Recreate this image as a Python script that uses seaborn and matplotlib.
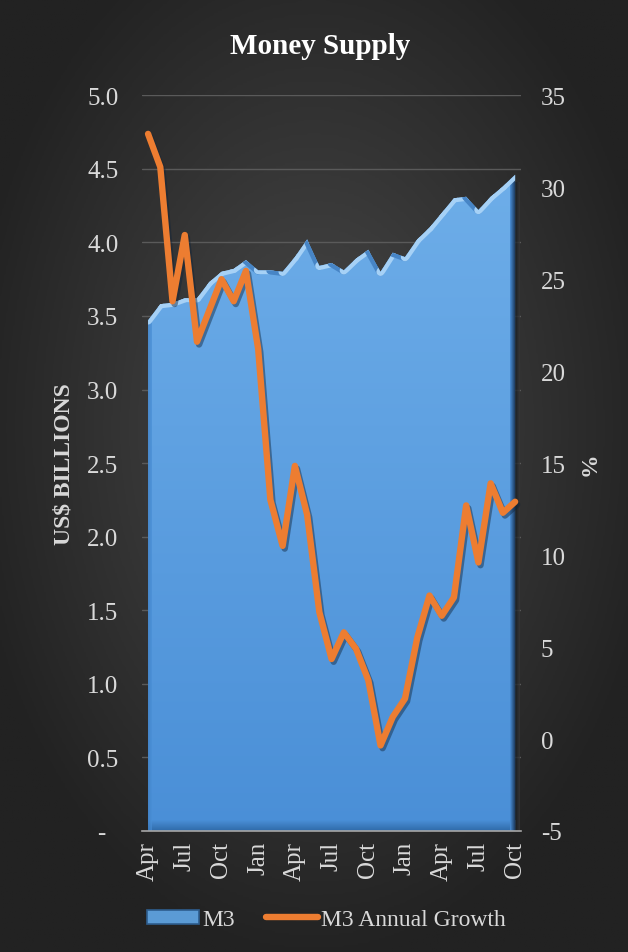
import numpy as np
import pandas as pd
import matplotlib
matplotlib.use("Agg")
import matplotlib.pyplot as plt
import matplotlib.patheffects as pe
from matplotlib.collections import LineCollection
from matplotlib.patches import Patch
from matplotlib.lines import Line2D
from matplotlib.colors import LinearSegmentedColormap
import seaborn as sns

# ---- data -------------------------------------------------------------
months = ["Apr", "May", "Jun", "Jul", "Aug", "Sep", "Oct", "Nov", "Dec",
          "Jan", "Feb", "Mar", "Apr", "May", "Jun", "Jul", "Aug", "Sep",
          "Oct", "Nov", "Dec", "Jan", "Feb", "Mar", "Apr", "May", "Jun",
          "Jul", "Aug", "Sep", "Oct"]
m3 = [3.47, 3.58, 3.59, 3.62, 3.62, 3.73, 3.80, 3.82, 3.88, 3.81, 3.81,
      3.80, 3.90, 4.02, 3.84, 3.86, 3.81, 3.89, 3.95, 3.80, 3.93, 3.90,
      4.02, 4.10, 4.20, 4.30, 4.31, 4.22, 4.31, 4.38, 4.46]
m3_growth = [32.9, 31.1, 23.8, 27.4, 21.6, 23.3, 25.0, 23.8, 25.45, 21.2,
             13.0, 10.5, 14.85, 12.2, 6.9, 4.35, 5.8, 4.9, 3.2, -0.35, 1.2,
             2.2, 5.5, 7.8, 6.7, 7.7, 12.7, 9.6, 13.9, 12.3, 12.9]
left_ticks = [0.0, 0.5, 1.0, 1.5, 2.0, 2.5, 3.0, 3.5, 4.0, 4.5, 5.0]
right_ticks = [-5, 0, 5, 10, 15, 20, 25, 30, 35]

df = pd.DataFrame({"idx": np.arange(len(months)), "month": months,
                   "m3": m3, "growth": m3_growth})

# ---- style ------------------------------------------------------------
sns.set_style("dark")
plt.rcParams["font.family"] = ["Liberation Serif", "DejaVu Serif"]
TXT = "#d9d9d9"
BLUE_TOP = "#6eaee9"
BLUE_BOT = "#4a8fd7"
ORANGE = "#ED7D31"
FS = 18

fig = plt.figure(figsize=(6.28, 9.53), dpi=100)

# background: dark radial gradient
bg = fig.add_axes([0, 0, 1, 1], zorder=-10)
yy, xx = np.mgrid[0:1:400j, 0:1:300j]
r = np.sqrt(((xx - 0.5) / 0.75) ** 2 + ((yy - 0.45) / 0.75) ** 2)
bg_cmap = LinearSegmentedColormap.from_list("bg", ["#4a4a4a", "#222222"])
bg.imshow(r, cmap=bg_cmap, vmin=0, vmax=0.75, aspect="auto", extent=[0, 1, 0, 1])
bg.set_axis_off()

ax = fig.add_axes([0.226, 0.127, 0.604, 0.772])
ax.set_facecolor("none")
ax.patch.set_alpha(0)

x = df["idx"].to_numpy()
y = df["m3"].to_numpy()

# area body with vertical gradient (darker at the base)
poly = ax.fill_between(x, 0, y, facecolor="none", edgecolor="none", zorder=2)
clip_path = poly.get_paths()[0]
grad = np.linspace(0, 1, 256).reshape(-1, 1)
area_cmap = LinearSegmentedColormap.from_list("area", [BLUE_BOT, BLUE_TOP])
im = ax.imshow(grad, cmap=area_cmap, aspect="auto", extent=[x[0], x[-1], 0, 4.5],
               zorder=2, origin="lower")
im.set_clip_path(clip_path, transform=ax.transData)

# bottom bevel band, fading upward
vgrad = np.linspace(0, 1, 64).reshape(-1, 1)
bot_cmap = LinearSegmentedColormap.from_list("bot", ["#2f6aa8", BLUE_BOT])
bot_im = ax.imshow(vgrad, cmap=bot_cmap, aspect="auto", extent=[x[0], x[-1], 0, 0.07],
                   zorder=3, origin="lower")
bot_im.set_clip_path(clip_path, transform=ax.transData)
# right bevel edge
hgrad = np.linspace(0, 1, 64).reshape(1, -1)
edge_cmap = LinearSegmentedColormap.from_list("edge", [BLUE_BOT, "#1d3d63"])
right_im = ax.imshow(hgrad, cmap=edge_cmap, aspect="auto",
                     extent=[x[-1] - 0.4, x[-1], 0, 4.6], zorder=3)
right_im.set_clip_path(clip_path, transform=ax.transData)
# left bevel edge
left_cmap = LinearSegmentedColormap.from_list("ledge", ["#3f7fc2", BLUE_BOT])
left_im = ax.imshow(hgrad, cmap=left_cmap, aspect="auto",
                    extent=[x[0], x[0] + 0.3, 0, 4.6], zorder=3, alpha=0.7)
left_im.set_clip_path(clip_path, transform=ax.transData)
# shadow cast to the right of the area
sh_cmap = LinearSegmentedColormap.from_list("sh", ["#151a20", "#3a3a3a"])
ax.imshow(hgrad, cmap=sh_cmap, aspect="auto", extent=[x[-1], x[-1] + 0.4, 0, y[-1] - 0.05],
          zorder=1, alpha=0.8)

# top bevel highlight, light on rising segments and darker on falling ones
segs = [[(x[i], y[i]), (x[i + 1], y[i + 1])] for i in range(len(x) - 1)]
seg_cols = ["#a6d1f6" if y[i + 1] >= y[i] else "#4785c6" for i in range(len(x) - 1)]
lc = LineCollection(segs, colors=seg_cols, linewidths=6, zorder=4,
                    capstyle="round", joinstyle="round")
ax.add_collection(lc)
lc.set_clip_path(clip_path, transform=ax.transData)

ax.set_xlim(-0.5, 30.5)
ax.set_ylim(0, 5)
ax.set_yticks(left_ticks)
# accounting-style zero: a dash followed by padding
ax.set_yticklabels(["-  " if v == 0 else f"{v:.1f}" for v in left_ticks])
ax.set_xticks(x[::3])
ax.set_xticklabels(df["month"][::3], rotation=90)
ax.grid(axis="y", color="#5a5a5a", lw=1.0, zorder=0)
ax.grid(axis="x", visible=False)
ax.set_axisbelow(True)
ax.tick_params(axis="both", length=0, colors=TXT, labelsize=FS)
ax.tick_params(axis="y", pad=17)
ax.tick_params(axis="x", pad=7)
for s in ["top", "left", "right"]:
    ax.spines[s].set_visible(False)
ax.spines["bottom"].set_color("#a6a6a6")
ax.spines["bottom"].set_linewidth(1.2)
ax.spines["bottom"].set_zorder(5)
ax.set_ylabel("US$ BILLIONS", color=TXT, fontsize=17, fontweight="bold", labelpad=9)
ax.set_xlabel("")

# growth line on the secondary axis
ax2 = ax.twinx()
sns.lineplot(data=df, x="idx", y="growth", ax=ax2, color=ORANGE, lw=4.6,
             solid_capstyle="round", solid_joinstyle="round", legend=False,
             path_effects=[pe.SimpleLineShadow(offset=(1.5, -2), shadow_color="#10243a", alpha=0.45),
                           pe.Normal()])
ax2.set_ylim(-5, 35)
ax2.set_yticks(right_ticks)
ax2.set_yticklabels([str(v) for v in right_ticks])
ax2.tick_params(axis="y", length=0, colors=TXT, labelsize=FS, pad=14)
ax2.grid(False)
for s in ax2.spines.values():
    s.set_visible(False)
ax2.set_ylabel("%", color=TXT, fontsize=17, fontweight="bold", labelpad=10)
ax2.set_xlabel("")
ax.set_xlim(-0.5, 30.5)

fig.text(0.51, 0.951, "Money Supply", ha="center", va="center", color="white",
         fontsize=21, fontweight="bold")

handles = [Patch(facecolor="#5b9bd5", edgecolor="#2e5d8e", lw=1.2),
           Line2D([0], [0], color=ORANGE, lw=4.6, solid_capstyle="round")]
leg = fig.legend(handles, ["M3", "M3 Annual Growth"], loc="center",
                 bbox_to_anchor=(0.52, 0.034), ncol=2, frameon=False,
                 fontsize=17, handlelength=2.2, handleheight=0.55,
                 columnspacing=1.3, handletextpad=0.15)
for t in leg.get_texts():
    t.set_color(TXT)

fig.savefig("out.png", dpi=100)
